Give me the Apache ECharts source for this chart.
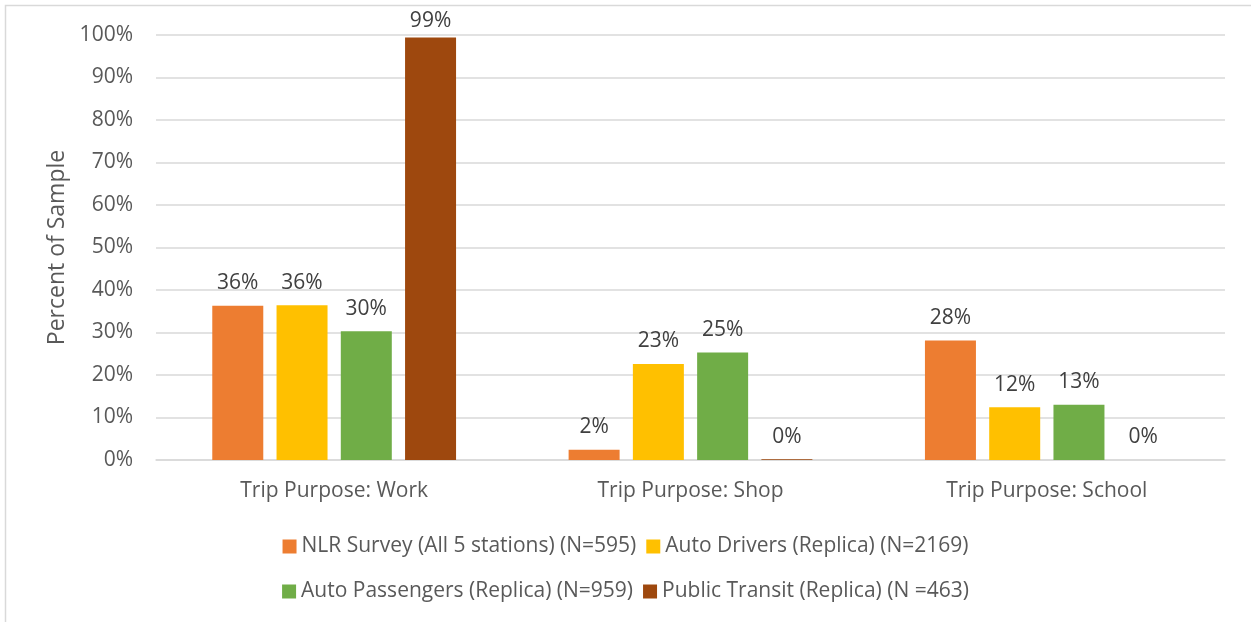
<!DOCTYPE html>
<html>
<head>
<meta charset="utf-8">
<script src="https://cdn.jsdelivr.net/npm/echarts@6/dist/echarts.min.js"></script>
<style>html,body{margin:0;padding:0;background:#fff;}#c{width:1251px;height:622px;}</style>
</head>
<body>
<div id="c"></div>
<script>
var categories = ['Trip Purpose: Work', 'Trip Purpose: Shop', 'Trip Purpose: School'];
var seriesNames = ['NLR Survey (All 5 stations) (N=595)', 'Auto Drivers (Replica) (N=2169)', 'Auto Passengers (Replica) (N=959)', 'Public Transit (Replica) (N =463)'];
var nlrSurvey = [36.3, 2.4, 28.1];
var autoDrivers = [36.4, 22.6, 12.4];
var autoPassengers = [30.3, 25.3, 13.0];
var publicTransit = [99.4, 0.2, 0];
var yTicks = [0, 10, 20, 30, 40, 50, 60, 70, 80, 90, 100];
var colors = ['#ED7D31', '#FFC000', '#70AD47', '#9E480E'];
var FONT = 'Open Sans';

var allData = [nlrSurvey, autoDrivers, autoPassengers, publicTransit];
var chart = echarts.init(document.getElementById('c'));
var series = allData.map(function (d, i) {
  return {
    name: seriesNames[i],
    type: 'bar',
    data: d.map(function (v) {
      return v > 95 ? { value: v, label: { distance: 6 } } : v;
    }),
    barWidth: 51,
    barGap: '26%',
    itemStyle: { color: colors[i] },
    label: {
      show: true, position: 'top', distance: 12,
      color: '#404040', fontFamily: FONT, fontSize: 21,
      formatter: function (p) { return Math.round(p.value) + '%'; }
    }
  };
});
chart.setOption({
  animation: false,
  graphic: [{ type: 'rect', shape: { x: 5.5, y: 5.5, width: 1300, height: 700 }, style: { fill: 'none', stroke: '#d9d9d9', lineWidth: 1.5 } }],
  grid: { left: 156, right: 26, top: 35, bottom: 162 },
  legend: [
    { data: seriesNames.slice(0, 2), left: 'center', top: 531, itemWidth: 14, itemHeight: 14, itemGap: 10,
      icon: 'rect', textStyle: { fontFamily: FONT, fontSize: 21, color: '#595959' } },
    { data: seriesNames.slice(2, 4), left: 'center', top: 576, itemWidth: 14, itemHeight: 14, itemGap: 10,
      icon: 'rect', textStyle: { fontFamily: FONT, fontSize: 21, color: '#595959' } }
  ],
  xAxis: {
    type: 'category', data: categories,
    axisLine: { lineStyle: { color: '#d9d9d9', width: 1.5 } },
    axisTick: { show: false },
    axisLabel: { color: '#595959', fontFamily: FONT, fontSize: 21, margin: 21 }
  },
  yAxis: {
    type: 'value', min: 0, max: 100, interval: 10,
    name: 'Percent of Sample', nameLocation: 'middle', nameGap: 87, nameRotate: 90,
    nameTextStyle: { color: '#595959', fontFamily: FONT, fontSize: 23 },
    axisLine: { show: false }, axisTick: { show: false },
    axisLabel: { color: '#595959', fontFamily: FONT, fontSize: 21, margin: 23,
      formatter: function (v) { return yTicks.indexOf(v) >= 0 ? v + '%' : ''; } },
    splitLine: { lineStyle: { color: '#d9d9d9', width: 1.5 } }
  },
  series: series
});
</script>
</body>
</html>
